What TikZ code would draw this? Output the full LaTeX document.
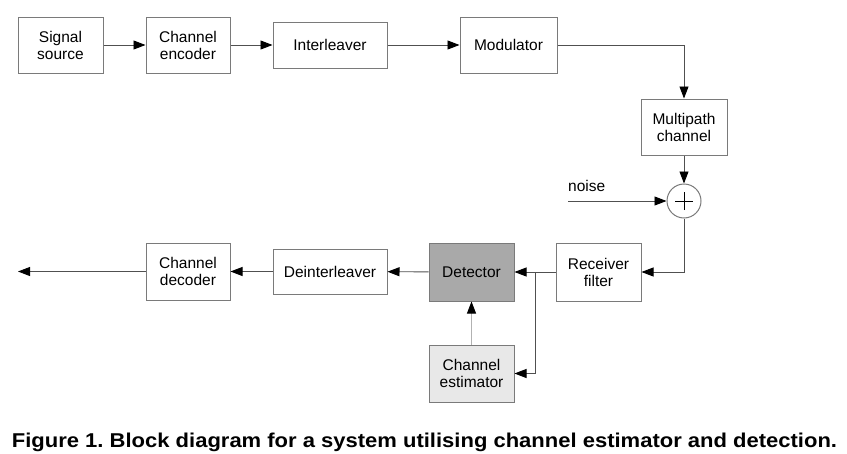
\documentclass[tikz,border=0pt]{standalone}
\usepackage{fontspec}
\setmainfont{Liberation Sans}
\usetikzlibrary{arrows.meta}
\definecolor{boxline}{HTML}{7A7A7A}
\definecolor{wire}{HTML}{505050}
\definecolor{detfill}{HTML}{A9A9A9}
\definecolor{estfill}{HTML}{E8E8E8}
\tikzset{
  blk/.style={draw=boxline, line width=1pt, fill=white, align=center, inner sep=0pt,
    font=\fontsize{15.5}{17}\selectfont, text=black},
  wireline/.style={draw=wire, line width=0.9pt, -{Triangle[length=12pt,width=9pt,color=black,fill=black]}},
}
\begin{document}
\frenchspacing
\begin{tikzpicture}[x=1pt,y=-1pt]
\useasboundingbox (0,0) rectangle (847,453);
\node[blk, minimum width=85pt, minimum height=56pt] (src) at (60.5,45) {Signal\\source};
\node[blk, minimum width=84pt, minimum height=56pt] (enc) at (188,45) {Channel\\encoder};
\node[blk, minimum width=114pt, minimum height=46pt] (int) at (330,45) {Interleaver};
\node[blk, minimum width=97pt, minimum height=56pt] (mod) at (508.5,45) {Modulator};
\node[blk, minimum width=86pt, minimum height=56pt] (mp) at (684,127) {Multipath\\channel};
\node[draw=boxline, line width=1pt, circle, minimum size=34pt, inner sep=0pt, fill=white] (sum) at (684,201) {};
\draw[black, line width=1pt] ([xshift=-9pt]sum.center) -- ([xshift=9pt]sum.center)
  ([yshift=-9pt]sum.center) -- ([yshift=9pt]sum.center);
\node[blk, minimum width=85pt, minimum height=58pt] (rx) at (598.5,272) {Receiver\\filter};
\node[blk, fill=detfill, minimum width=85pt, minimum height=58pt] (det) at (471.5,272) {Detector};
\node[blk, minimum width=114pt, minimum height=45pt] (deint) at (330,271.5) {Deinterleaver};
\node[blk, minimum width=84pt, minimum height=57pt] (dec) at (188,271.5) {Channel\\decoder};
\node[blk, fill=estfill, minimum width=85pt, minimum height=57pt] (est) at (471.5,373.5) {Channel\\estimator};
\coordinate (out) at (18,271.5);
\coordinate (nz) at (568,201);
\coordinate (br) at (535,272);
\node[font=\fontsize{15.5}{17}\selectfont, anchor=base west, inner sep=0pt] (nzlab) at (568,191) {noise};

\draw[wireline] (src) -- (enc);
\draw[wireline] (enc) -- (int);
\draw[wireline] (int) -- (mod);
\draw[wireline] (mod.east) -| (mp.north);
\draw[wireline] (mp) -- (sum);
\draw[wireline] (nz) -- (sum);
\draw[wireline] (sum.south) |- (rx.east);
\draw[wireline] (rx.west) -- (det.east);
\draw[wireline] (br) |- (est.east);
\draw[wireline, draw=gray!60] (est) -- (det);
\draw[wireline] (det) -- (deint);
\draw[wireline] (deint) -- (dec);
\draw[wireline] (dec) -- (out);

\node[font=\bfseries\fontsize{20}{24}\selectfont, anchor=base, inner sep=0pt] (cap) at (424.5,447)
  {\scalebox{1.1}[1]{Figure 1. Block diagram for a system utilising channel estimator and detection.}};
\end{tikzpicture}
\end{document}
